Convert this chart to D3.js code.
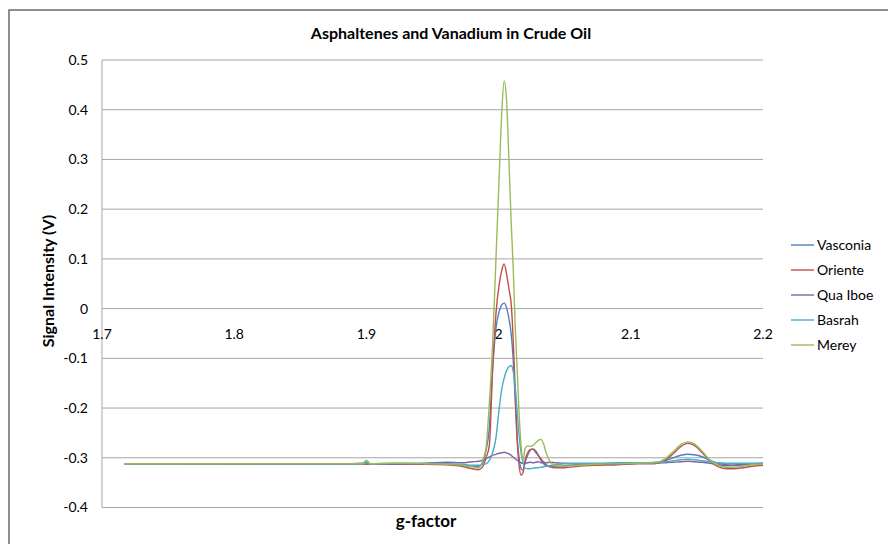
<!DOCTYPE html>
<html><head><meta charset="utf-8">
<script src="https://cdn.jsdelivr.net/npm/d3@7"></script>
<style>body{margin:0;background:#fff}svg{display:block}text{font-family:Lato,"Open Sans",sans-serif;fill:#000}</style>
</head><body>
<svg id="c" width="888" height="544"></svg>
<script>
const title = "Asphaltenes and Vanadium in Crude Oil";
const xTitle = "g-factor";
const yTitle = "Signal Intensity (V)";
const xTicks = [1.7, 1.8, 1.9, 2.0, 2.1, 2.2];
const xTickLabels = ["1.7", "1.8", "1.9", "2", "2.1", "2.2"];
const yTicks = [-0.4, -0.3, -0.2, -0.1, 0, 0.1, 0.2, 0.3, 0.4, 0.5];
const yTickLabels = ["-0.4", "-0.3", "-0.2", "-0.1", "0", "0.1", "0.2", "0.3", "0.4", "0.5"];
const seriesNames = ["Vasconia", "Oriente", "Qua Iboe", "Basrah", "Merey"];
const seriesColors = ["#4F81BD", "#C0504D", "#8064A2", "#4BACC6", "#9BBB59"];

const gFactor = [1.717, 1.870, 1.897, 1.900, 1.903, 1.920, 1.945, 1.960, 1.972, 1.980, 1.985, 1.988, 1.9905, 1.993, 1.9955, 1.998, 2.0005, 2.0025, 2.0042, 2.006, 2.0078, 2.0095, 2.011, 2.0125, 2.014, 2.0155, 2.017, 2.0185, 2.020, 2.022, 2.024, 2.026, 2.028, 2.030, 2.032, 2.034, 2.036, 2.039, 2.043, 2.05, 2.06, 2.075, 2.09, 2.105, 2.118, 2.126, 2.132, 2.138, 2.143, 2.148, 2.154, 2.16, 2.166, 2.172, 2.178, 2.185, 2.192, 2.2];

const vasconia = [-0.312, -0.312, -0.313, -0.312, -0.313, -0.312, -0.313, -0.313, -0.315, -0.317, -0.318, -0.31, -0.285, -0.24, -0.12, -0.04, -0.005, 0.008, 0.011, 0.002, -0.02, -0.05, -0.10, -0.18, -0.26, -0.30, -0.322, -0.325, -0.31, -0.295, -0.285, -0.282, -0.286, -0.295, -0.305, -0.312, -0.316, -0.318, -0.318, -0.316, -0.314, -0.313, -0.312, -0.311, -0.310, -0.306, -0.300, -0.295, -0.293, -0.294, -0.298, -0.305, -0.311, -0.314, -0.315, -0.314, -0.313, -0.312];
const oriente = [-0.312, -0.313, -0.312, -0.313, -0.312, -0.313, -0.313, -0.314, -0.317, -0.322, -0.324, -0.318, -0.30, -0.275, -0.12, -0.01, 0.05, 0.078, 0.09, 0.07, 0.04, 0.01, -0.06, -0.16, -0.26, -0.315, -0.335, -0.33, -0.305, -0.29, -0.283, -0.283, -0.289, -0.295, -0.302, -0.309, -0.314, -0.318, -0.320, -0.320, -0.317, -0.315, -0.314, -0.312, -0.312, -0.305, -0.292, -0.277, -0.271, -0.275, -0.29, -0.307, -0.318, -0.322, -0.322, -0.320, -0.317, -0.315];
const quaIboe = [-0.312, -0.313, -0.311, -0.309, -0.312, -0.313, -0.311, -0.309, -0.310, -0.308, -0.307, -0.305, -0.302, -0.298, -0.295, -0.293, -0.291, -0.290, -0.289, -0.290, -0.292, -0.295, -0.299, -0.302, -0.305, -0.308, -0.310, -0.311, -0.311, -0.310, -0.309, -0.310, -0.309, -0.308, -0.310, -0.309, -0.310, -0.309, -0.310, -0.311, -0.312, -0.313, -0.312, -0.311, -0.311, -0.310, -0.309, -0.308, -0.307, -0.308, -0.309, -0.311, -0.314, -0.316, -0.315, -0.313, -0.312, -0.311];
const basrah = [-0.312, -0.312, -0.312, -0.311, -0.312, -0.311, -0.311, -0.312, -0.313, -0.315, -0.315, -0.313, -0.312, -0.305, -0.29, -0.26, -0.20, -0.16, -0.14, -0.125, -0.117, -0.115, -0.125, -0.155, -0.205, -0.255, -0.29, -0.31, -0.320, -0.322, -0.322, -0.321, -0.320, -0.320, -0.319, -0.318, -0.317, -0.316, -0.314, -0.312, -0.311, -0.311, -0.310, -0.310, -0.309, -0.308, -0.306, -0.304, -0.303, -0.304, -0.306, -0.308, -0.310, -0.311, -0.311, -0.311, -0.311, -0.311];
const merey = [-0.312, -0.312, -0.312, -0.305, -0.312, -0.311, -0.312, -0.313, -0.315, -0.318, -0.320, -0.305, -0.28, -0.19, -0.07, 0.10, 0.27, 0.40, 0.458, 0.42, 0.30, 0.175, 0.085, -0.03, -0.12, -0.21, -0.275, -0.305, -0.282, -0.276, -0.277, -0.275, -0.270, -0.265, -0.263, -0.272, -0.29, -0.308, -0.316, -0.317, -0.315, -0.313, -0.312, -0.311, -0.310, -0.302, -0.288, -0.273, -0.268, -0.272, -0.287, -0.305, -0.315, -0.319, -0.319, -0.317, -0.314, -0.313];

const seriesValues = [vasconia, oriente, quaIboe, basrah, merey];

const svg = d3.select("#c");
// outer chart border
svg.append("rect").attr("x", 9).attr("y", 10).attr("width", 1000).attr("height", 1000)
  .attr("fill", "none").attr("stroke", "#6b6b6b").attr("stroke-width", 1.5);

const x = d3.scaleLinear().domain([1.7, 2.2]).range([102, 763]);
const y = d3.scaleLinear().domain([-0.4, 0.5]).range([507.5, 60]);

// gridlines
svg.append("g").selectAll("line").data(yTicks).join("line")
  .attr("x1", x(1.7)).attr("x2", x(2.2))
  .attr("y1", d => y(d)).attr("y2", d => y(d))
  .attr("stroke", "#a6a6a6").attr("stroke-width", 1);
// y axis line
svg.append("line").attr("x1", x(1.7)).attr("x2", x(1.7)).attr("y1", y(0.5)).attr("y2", y(-0.4))
  .attr("stroke", "#a6a6a6").attr("stroke-width", 1);

// y tick labels
svg.append("g").selectAll("text").data(yTicks).join("text")
  .attr("x", 88).attr("y", d => y(d)).attr("dy", "0.35em")
  .attr("text-anchor", "end").attr("font-size", 14)
  .text((d, i) => yTickLabels[i]);
// x tick labels
svg.append("g").selectAll("text").data(xTicks).join("text")
  .attr("x", d => x(d)).attr("y", y(0) + 25).attr("dy", "0.35em")
  .attr("text-anchor", "middle").attr("font-size", 14)
  .text((d, i) => xTickLabels[i]);

// series
const line = d3.line().x(d => x(d[0])).y(d => y(d[1])).curve(d3.curveMonotoneX);
seriesValues.forEach((vals, i) => {
  svg.append("path").datum(gFactor.map((g, j) => [g, vals[j]]))
    .attr("d", line).attr("fill", "none").attr("stroke", seriesColors[i])
    .attr("stroke-width", 1.4).attr("stroke-linejoin", "round");
});

// titles
svg.append("text").attr("x", 451).attr("y", 33).attr("dy", "0.35em")
  .attr("text-anchor", "middle").attr("font-size", 16).attr("font-weight", "bold").text(title);
svg.append("text").attr("x", 426).attr("y", 521).attr("dy", "0.35em")
  .attr("text-anchor", "middle").attr("font-size", 17).attr("font-weight", "bold").text(xTitle);
svg.append("text").attr("transform", "translate(48,281) rotate(-90)").attr("dy", "0.35em")
  .attr("text-anchor", "middle").attr("font-size", 16).attr("font-weight", "bold").text(yTitle);

// legend
const lg = svg.append("g").selectAll("g").data(seriesNames).join("g")
  .attr("transform", (d, i) => `translate(791,${245 + i * 25})`);
lg.append("line").attr("x1", 0).attr("x2", 23).attr("y1", 0).attr("y2", 0)
  .attr("stroke", (d, i) => seriesColors[i]).attr("stroke-width", 1.4);
lg.append("text").attr("x", 26).attr("y", 0).attr("dy", "0.35em").attr("font-size", 14).text(d => d);
</script>
</body></html>
